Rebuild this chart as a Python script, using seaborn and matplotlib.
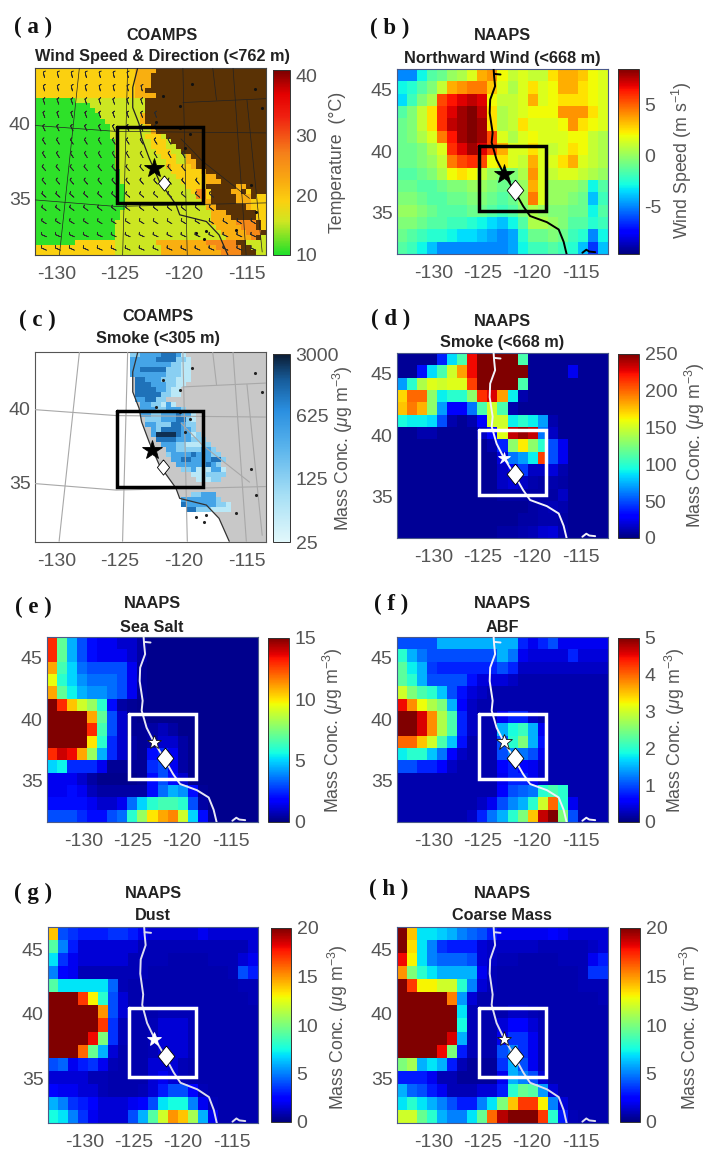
import numpy as np
import matplotlib
matplotlib.use('Agg')
import matplotlib.pyplot as plt
from matplotlib.colors import LinearSegmentedColormap, LogNorm
from matplotlib.ticker import NullLocator
import seaborn as sns

W, H = 705, 1151

sns.set_theme(style='white')
plt.rcParams['font.family'] = ['Liberation Sans', 'DejaVu Sans']
plt.rcParams['mathtext.fontset'] = 'custom'
plt.rcParams['mathtext.rm'] = 'Liberation Sans'
plt.rcParams['mathtext.it'] = 'Liberation Sans:italic'
plt.rcParams['axes.linewidth'] = 0.8

# NAAPS fields, 15 rows (north to south) by 21 columns, short rows stay low to the east
wind_rows = [
    [-5, -5, -3, -1.5, -1, 0, 0.5, 1.5, 3.5, 4, 2, 1, 1.5, 1, 1, 2.5, 3.5, 3.5, 3, 2, 1.5],
    [-3, -2.5, -1.5, -0.5, 1, 3.5, 4, 4.5, 4.5, 3, 1.5, 0.5, 1.5, 2.5, 1.5, 2, 3.5, 3.5, 2.5, 2, 1.5],
    [-3.5, -2, -0.5, 0.5, 5.5, 6.5, 7, 7.5, 7, 2, 1, 1, 1.5, 3.5, 1.5, 2, 2.5, 2.5, 2.5, 2, 1.5],
    [-1.5, -0.5, 1, 2.5, 6, 7, 8, 8.5, 7.5, 2.5, 0.5, 1, 1.5, 2, 2, 2, 4, 4, 4, 2.5, 1.5],
    [-1, -0.5, 1, 2.5, 6, 7.5, 8, 8.5, 8, 2.5, 0.5, 1, 2.5, 1.5, 1.5, 1.5, 2, 4, 2.5, 2, 1.5],
    [-1, -0.5, 0.5, 1.5, 4.5, 6.5, 8, 8.5, 8, 5.5, 1.5, 0.5, 1.5, 2, 1.5, 1.5, 1.5, 2, 2, 1, 0.5],
    [-1, -1, -0.5, 0.5, 1.5, 6, 7, 8, 7, 5.5, 3.5, 1.5, 1.5, 2.5, 1.5, 1, 1.5, 2.5, 2, 1, 0.5],
    [-1, -1, -0.5, 0, 1, 4.5, 5.5, 6, 5.5, 2, 2.5, 1.5, 1, 3.5, 1.5, 1.5, 2.5, 3.5, 1.5, 1, 0.5],
    [-1.5, -1.5, -1, -0.5, 0.5, 2, 2.5, 2, 1, 0, -0.5, -0.5, 0.5, 4, 1.5, 1, 1.5, 1.5, 1, 0.5, 0],
    [-1, -1, -1.5, -1.5, -1, -0.5, -0.5, 0, 0, -0.5, -1, -1, 0, 3.5, 1.5, 0, 0, 0, -0.5, -3, -1.5],
    [-0.5, -0.5, -1, -1.5, -1.5, -1, -1, -0.5, -0.5, -1, -1.5, -1, 0, 4.5, 1.5, 0, 0, -0.5, -1, -4, -2],
    [0, 0, -0.5, -1, -1.5, -1.5, -1.5, -1, -1, -1.5, -2, -1.5, -0.5, 0.5, 0, -0.5, -0.5, -1, -1, -3, -1.5],
    [-0.5, -0.5, -1, -1.5, -1.5, -2, -2, -2.5, -3, -3.5, -4, -3, -1.5, 0.5, 0.5, 0, -0.5, -1.5, -1.5, -2.5, -2],
    [-1, -1.5, -2, -2.5, -2.5, -3, -3.5, -3.5, -4, -4.5, -5, -4.5, -2.5, -1, -1, -0.5, -1, -2, -2.5, -5, -3],
    [-1.5, -2, -3, -4, -5, -5, -5, -5, -5, -5, -5, -4.5, -3, -2, -2, -1.5, -2, -2.5, -4, -6.5, -4],
]
smoke_rows = [
    [5, 5, 5, 5, 40, 85, 110, 225, 250, 250, 250, 250, 110],
    [5, 5, 35, 85, 110, 150, 185, 225, 250, 250, 250, 250, 250, 5, 5, 5, 5, 25],
    [70, 100, 140, 155, 150, 155, 155, 210, 250, 250, 250, 250, 110],
    [170, 200, 200, 130, 90, 100, 100, 130, 215, 230, 185, 90, 10],
    [175, 195, 180, 130, 70, 30, 30, 60, 110, 150, 110, 10],
    [95, 90, 90, 85, 50, 10, 5, 10, 30, 150, 150, 90, 100, 90, 70, 10],
    [5, 5, 10, 10, 5, 5, 5, 5, 15, 30, 155, 235, 245, 235, 60, 15],
    [5, 5, 5, 5, 5, 5, 5, 5, 5, 10, 40, 130, 165, 130, 100, 50, 25],
    [5, 5, 5, 5, 5, 5, 5, 5, 5, 5, 20, 60, 70, 90, 210, 50, 25],
    [5, 5, 5, 5, 5, 5, 5, 5, 5, 5, 15, 30, 45, 15, 15, 20, 10],
    [5, 5, 5, 5, 5, 5, 5, 5, 5, 5, 15, 20, 15, 10, 8, 10, 8],
    [5, 5, 5, 5, 5, 5, 5, 5, 5, 5, 8, 8, 8, 8, 8, 8, 15],
    [5, 5, 5, 5, 5, 5, 5, 5, 5, 5, 5, 5, 5, 8, 10, 12, 10],
    [5, 5, 5, 5, 5, 5, 5, 5, 5, 5, 5, 5, 8, 8, 10, 10, 8],
    [5, 5, 5, 5, 5, 5, 5, 5, 5, 5, 8, 8, 10, 12, 18, 20, 10],
]
seasalt_rows = [
    [13, 7, 4.5, 3, 2, 1.5, 1.5, 1, 1, 0.5],
    [13, 7, 4.5, 3, 2, 1.5, 1.5, 1.5, 1, 0.5],
    [11, 6.5, 5, 3.5, 3, 3, 3, 3, 1.5, 0.3],
    [9.5, 6, 5, 4, 3.5, 3.5, 3.5, 3, 1.5, 0.3],
    [11, 7, 5.5, 4.5, 4, 4, 3.5, 3, 1.5, 0.3],
    [15, 13, 10.5, 9, 8, 6, 2, 0.5, 0.3],
    [15, 15, 15, 15, 11, 7, 3, 1, 0.3],
    [15, 15, 15, 15, 13, 6.5, 3, 1, 0.3, 0.3, 0.5, 0.8, 0.5],
    [15, 15, 15, 15, 10, 6, 2.5, 1, 0.5, 0.3, 0.5, 1, 1, 0.5],
    [13, 14, 13.5, 11, 8, 4.5, 2.5, 1, 0.5, 0.3, 2, 2.5, 1.5, 0.5],
    [5, 5.5, 2.5, 2.5, 2.5, 1.5, 0.3, 0.3, 0.3, 0.3, 2.5, 3, 1.5, 0.5],
    [1.5, 1.5, 1.5, 1, 0.5, 0.2, 0.2, 0.2, 0.2, 0.3, 2, 3, 2, 1],
    [1.5, 1.5, 2, 1.5, 0.8, 0.5, 0.5, 0.5, 0.5, 0.5, 2, 3.5, 4.5, 4, 2, 0.3],
    [2, 2, 2, 2, 1.5, 1, 1, 1.5, 3.5, 5, 6, 6.5, 6.5, 6, 3, 0.5],
    [3, 3, 3, 2.5, 2, 2, 3, 3.5, 6, 8, 10, 11, 11.5, 9, 5, 2, 0.3],
]
abf_rows = [
    [1, 1, 1, 1, 1.5, 1.5, 1.5, 1.5, 1.5, 1.5, 1.5, 1.5, 0.8, 0.5, 0.8, 1, 0.5, 0.5, 0.5, 0.5, 0.5],
    [2, 1.5, 1.2, 1, 1, 1, 1, 1, 1, 1, 1.5, 1.2, 0.5, 0.4, 0.4, 0.4, 0.4, 0.8, 0.4, 0.4, 0.4],
    [2.3, 1.8, 1.5, 0.9, 0.8, 0.8, 0.8, 0.8, 0.8, 0.8, 1, 0.8, 0.3, 0.3, 0.3, 0.3, 0.3, 0.3, 0.3, 0.3, 0.3],
    [2.3, 2, 1.5, 1, 1, 1, 1, 0.7, 0.4, 0.4, 0.4, 0.3],
    [3, 2.5, 2.2, 2, 1.6, 1, 0.7, 0.4, 0.3, 0.2],
    [4.5, 3.8, 3.2, 2.8, 2.5, 1.5, 0.6, 0.3],
    [5, 5, 4.6, 3.8, 2.8, 2.2, 0.8, 0.3, 0.2, 0.2, 0.5, 0.8, 0.8, 0.3],
    [5, 5, 4.6, 3.8, 2.8, 2.2, 0.8, 0.3, 0.2, 0.2, 1.5, 1.9, 2.1, 1.5, 0.5],
    [4, 4, 3.5, 3, 2.2, 1.6, 0.7, 0.2, 0.2, 0.2, 1, 2, 2.5, 1.5, 0.7],
    [1.8, 2, 2, 1.6, 1.2, 0.6, 0.3, 0.2, 0.2, 0.2, 1, 1.3, 1.2, 1, 0.5],
    [1, 1, 0.8, 0.8, 0.6, 0.3, 0.2, 0.2, 0.2, 0.2, 0.6, 0.8, 0.6, 0.5, 0.3],
    [0.2, 0.2, 0.2, 0.2, 0.2, 0.2, 0.2, 0.2, 0.2, 0.2, 0.5, 0.8, 0.8, 0.5, 0.3],
    [0.2, 0.2, 0.2, 0.2, 0.2, 0.2, 0.2, 0.2, 0.2, 0.2, 0.6, 1, 1.1, 1.2, 2, 2.2, 2],
    [0.2, 0.2, 0.2, 0.2, 0.2, 0.2, 0.2, 0.2, 0.3, 0.5, 1, 1.3, 1.5, 2, 3, 4, 2, 0.5],
    [0.2, 0.2, 0.2, 0.2, 0.2, 0.2, 0.2, 0.3, 0.8, 1.2, 1.5, 2, 2.5, 3.5, 4.7, 5, 2.5, 1],
]
dust_rows = [
    [14, 4, 3.5, 3, 3, 3, 3.5, 3.5, 3, 2, 1.5, 1.5, 1.5, 1.5, 1.5, 2, 1.5, 1.5, 1.5, 1.5, 1.5],
    [9, 5, 3, 1.5, 1.5, 1.5, 1.5, 1.5, 1.5, 1, 1, 1, 1, 1, 1, 1, 1, 1, 1, 1, 1.5],
    [7, 3.5, 2, 1.5, 1.5, 1.5, 1.5, 1.5, 1, 1, 1, 1, 0.8, 0.8, 0.8, 0.8, 1, 1, 1, 1.5, 2],
    [5, 2.5, 2, 1, 1, 1, 1, 1, 1, 1, 0.8, 0.8, 0.8, 0.8, 0.8, 0.8, 0.8, 0.8, 1, 4, 3],
    [9, 7, 7, 7, 7, 7, 4.5, 1, 0.8, 0.8, 0.8, 0.8, 0.8, 0.8, 0.8, 0.8, 0.8, 0.8, 0.8, 1, 1],
    [20, 20, 20, 17, 13, 8, 4, 1.5, 0.8, 0.8, 0.8, 0.8, 0.8, 0.8, 0.8, 0.8, 0.8, 0.8, 0.8, 0.8, 1],
    [20, 20, 20, 20, 20, 15, 4, 1.5, 0.8, 0.8, 0.8, 1, 1, 1, 1, 0.8, 0.8, 0.8, 0.8, 0.8, 0.8],
    [20, 20, 20, 20, 20, 17, 3.5, 1, 0.8, 0.8, 1, 1.5, 1.5, 1.5, 1, 0.8, 0.8, 0.8, 0.8, 0.8, 0.8],
    [20, 20, 20, 20, 18, 10, 3.5, 1, 0.8, 0.8, 1, 1.5, 1.5, 1.5, 1, 0.8, 0.8, 0.8, 0.8, 0.8, 0.8],
    [20, 20, 20, 16, 9.5, 6, 1.5, 0.8, 0.8, 0.8, 1, 1.5, 1.5, 1.5, 1, 0.8, 0.8, 0.8, 0.8, 0.8, 0.8],
    [4, 4.5, 2, 3, 3.5, 2, 1, 0.8, 0.8, 0.8, 1.5, 1.5, 1.5, 1, 0.8, 0.8, 0.8, 0.8, 0.8, 0.8, 0.8],
    [1.5, 1.5, 1.5, 1.5, 1, 1, 0.8, 0.8, 0.8, 0.8, 1.5, 2, 1.5, 1, 0.8, 0.8, 0.8, 0.8, 0.8, 0.8, 0.8],
    [2.5, 2, 2, 1.5, 1.5, 1, 0.8, 0.8, 0.8, 1, 1.5, 3, 4, 4, 2.5, 1, 0.8, 0.8, 0.8, 0.8, 0.8],
    [6, 5, 3.5, 3, 2.5, 1.5, 1.5, 1.5, 2, 2.5, 4, 7, 7.5, 7.5, 5, 2, 1, 0.8, 0.8, 0.8, 0.8],
    [7.5, 7, 5, 3.5, 2, 1.5, 1.5, 1.5, 4, 6, 9, 12, 15, 14, 11, 6, 2, 0.8, 0.8, 0.8, 0.8],
]
coarse_rows = [
    [20, 14, 7, 7, 6.5, 6, 5, 4.5, 4, 3, 2, 2, 2, 2, 2, 2.5, 2, 1.5, 1.5, 1.5, 1.5],
    [20, 13.5, 7, 5, 3.5, 3, 3, 3, 1.5, 1.2, 1.2, 1.2, 1.2, 1.2, 1, 1, 1, 1, 1, 1.2, 1.5],
    [18, 13, 7, 5, 4.5, 4.5, 4.5, 4, 1.5, 1.2, 1, 1, 0.8, 0.8, 0.8, 0.8, 1, 1, 1, 2, 3],
    [15, 10, 8, 7, 6, 6, 6, 6, 2, 1, 0.8, 0.8, 0.8, 0.8, 0.8, 0.8, 0.8, 0.8, 1, 3.5, 3.5],
    [20, 17, 13, 13, 12, 12, 8, 5, 1.5, 1, 0.8, 0.8, 0.8, 0.8, 0.8, 0.8, 0.8, 0.8, 1, 1, 1],
    [20, 20, 20, 20, 20, 15.5, 5.5, 1.5, 0.8, 0.8, 0.8, 0.8, 0.8, 0.8, 0.8, 0.8, 0.8, 0.8, 0.8, 0.8, 1],
    [20, 20, 20, 20, 20, 20, 7, 1, 0.8, 0.8, 0.8, 1.2, 1.2, 1, 0.8, 0.8, 0.8, 0.8, 0.8, 0.8, 0.8],
    [20, 20, 20, 20, 20, 20, 7.5, 1, 0.8, 0.8, 1.5, 2.5, 2.5, 1.5, 1, 0.8, 0.8, 0.8, 0.8, 0.8, 0.8],
    [20, 20, 20, 20, 20, 18.5, 6, 1, 0.8, 0.8, 2, 3.5, 3.5, 2, 1, 0.8, 0.8, 0.8, 0.8, 0.8, 0.8],
    [20, 20, 20, 20, 18, 10, 3, 1, 0.8, 0.8, 4, 5, 3.5, 2, 1, 0.8, 0.8, 0.8, 0.8, 0.8, 0.8],
    [10, 11, 6, 7, 6, 3, 1, 0.5, 0.5, 0.5, 3.5, 6, 4, 2, 1, 0.8, 0.8, 0.8, 0.8, 0.8, 0.8],
    [3, 3, 3, 2, 1, 1, 0.5, 0.5, 0.5, 0.5, 2, 6, 5, 4, 1.5, 0.8, 0.8, 0.8, 0.8, 0.8, 0.8],
    [6, 4.5, 4, 3, 2, 1, 1, 1, 1.5, 1.5, 3, 8, 9.5, 9, 5.5, 1.5, 0.8, 0.8, 0.8, 0.8, 0.8],
    [7, 8, 7, 6, 5, 4, 3, 3, 5, 7, 10, 14, 17, 17, 13, 5, 1.5, 0.8, 0.8, 0.8, 0.8],
    [12, 12, 9.5, 8, 6, 5, 5, 7, 9.5, 16, 19, 20, 20, 20, 17, 8, 3, 1, 0.8, 0.8, 0.8],
]

# COAMPS temperature, run lengths of g/l/y/o/O classes, b is terrain brown
temp_levels = {'g': 10.5, 'l': 15.5, 'y': 19, 'o': 22, 'O': 26}
temp_rows = [
    'y20 o4 b22', 'y20 o3 b23', 'y20 o3 b23', 'y20 o3 b23', 'y20 o2 b24', 'y20 o4 b22',
    'g8 l14 b24', 'g11 l11 b24', 'g12 l10 b24', 'g13 l8 o1 b24', 'g14 l7 o1 b24', 'g15 l7 o1 b23',
    'g15 l8 o1 b22', 'g15 l7 y3 l1 b20', 'g16 l7 y3 l1 b19', 'g16 l7 y3 l2 b18', 'g16 l8 y3 l2 b17',
    'g16 l9 y3 l2 o1 b15', 'g16 l10 y2 l2 o2 b14', 'g16 l10 o1 y4 o1 b14', 'g17 l10 y6 o1 b12',
    'g17 l11 y6 o2 b10', 'g17 l12 y5 o3 b9', 'g18 l12 y4 b6 o2 b4', 'g18 l13 y1 O2 y1 b4 o2 b1 y1 b3',
    'g18 l14 O2 y1 b5 o3 b1 y2', 'g18 l15 o2 b5 o3 y3', 'g18 l16 o2 b6 o1 y3', 'g17 l18 o3 b6 y2',
    'g17 l18 o4 b5 y2', 'g16 l19 o5 O4 b1 y1', 'g16 l20 o5 O3 b1 y1', 'g16 l21 o5 O3 b1',
    'g16 l22 o5 O1 b1 l1', 'g8 y8 l8 o10 O6 b2 l4', 'y16 l9 o11 O5 b2 l3', 'y16 l9 o12 O4 b3 l2',
]

# COAMPS smoke, run lengths of concentration classes, . is no smoke
smoke_levels = {'a': 55, 'b': 130, 'c': 420, 'd': 1100, 'e': 2400}
coamps_smoke_rows = [
    '.19 b2 c4 d3 c1 a1 .16', '.19 c5 d4 b2 a1 .15', '.19 c8 b2 a2 .15', '.19 c2 d5 b3 a2 .15',
    '.19 c7 b3 a2 .15', '.20 d2 c3 b3 a3 .15', '.20 d3 c3 b2 a2 .16', '.20 d4 c2 b1 a2 .17',
    '.20 d5 b2 a2 .17', '.20 c2 d2 b2 .20', '.21 c2 b2 a1 c1 a1 .18', '.21 c3 b2 c3 b1 .16',
    '.21 c2 b2 c3 d1 c2 a1 .14', '.22 b3 c3 d2 b1 a1 .14', '.22 c2 b3 d2 c1 b2 .14',
    '.23 c1 b1 d4 c2 b1 .14', '.23 c1 e4 d1 c2 a1 b1 .13', '.24 d4 c3 b3 .12', '.25 c3 b2 a3 b2 .11',
    '.26 c2 b5 c2 b1 .10', '.26 b1 c4 d1 c3 b2 .9', '.27 c2 d2 c4 d2 b1 .8', '.28 c6 d1 c1 b1 .9',
    '.29 b2 c1 a3 c2 a1 .8', '.31 a3 b4 .8', '.32 a3 b2 .9', '.46', '.46', '.31 b2 c3 .10',
    '.29 c5 c2 b1 .9', '.29 d1 c4 c2 b2 a1 .7', '.30 d2 b3 a4 .7', '.46', '.46', '.46', '.46', '.46', '.46',
]

# geography in lon, lat
naaps_coast_lon = [-123.9, -123.85, -123.75, -124.25, -124.3, -124.0, -124.1, -123.6, -122.9, -121.9, -120.9, -120.2, -118.5, -117.3, -116.8, -116.5]
naaps_coast_lat = [46.7, 46.1, 45.3, 44.2, 43.1, 41.5, 40.7, 39.3, 38.2, 36.9, 35.5, 34.7, 34.2, 33.6, 32.6, 31.6]
river_lon = [-123.85, -123.2]
river_lat = [46.3, 46.25]
gulf_lon = [-114.9, -114.5, -114.2, -113.6]
gulf_lat = [31.7, 31.95, 31.8, 31.75]
coamps_coast_lon = [-123.6, -124.0, -124.0, -123.5, -123.3, -122.7, -121.9, -120.6, -120.3, -118.2, -117.2, -116.4]
coamps_coast_lat = [43.8, 42.45, 41.1, 40.0, 39.07, 37.7, 36.15, 34.6, 33.9, 33.45, 32.55, 31.0]
graticule = [
    ([-131.7, -125.3, -113.5], [39.9, 39.5, 39.4]),
    ([-131.7, -125.3, -113.5], [34.9, 34.46, 34.7]),
    ([-128.2, -129.8], [43.8, 31.0]),
    ([-124.4, -124.8], [43.8, 31.0]),
    ([-120.05, -119.7], [43.8, 31.0]),
    ([-116.1, -115.05], [43.8, 31.0]),
]
borders = [
    ([-120.05, -113.5], [41.44, 41.7]),
    ([-117.7, -117.4], [43.8, 41.6]),
    ([-120.2, -118.5, -114.8], [39.0, 37.5, 35.0]),
    ([-115.0, -113.8], [41.6, 31.4]),
]
speck_lon = [-121.6, -120.3, -119.3, -122.15, -120.3, -119.5, -119.9, -114.7, -114.3, -115.85, -118.2, -119.0, -118.35, -114.4, -113.8]
speck_lat = [41.9, 41.2, 42.7, 40.1, 39.75, 39.3, 38.4, 35.9, 34.1, 32.9, 32.8, 32.65, 32.3, 42.35, 41.1]

# wind barbs for panel a, westerly part grows southward
barb_lons = [-131.0, -129.9, -128.8, -127.7, -126.6, -125.5, -124.4, -123.3, -122.2, -121.1, -120.0, -118.9, -117.8, -116.7, -115.6, -114.5]
barb_lats = [43.3, 42.4, 41.5, 40.6, 39.7, 38.8, 37.9, 37.0, 36.1, 35.2, 34.3, 33.4, 32.5, 31.6]
barb_columns = [7, 8, 8, 9, 9, 10, 11, 11, 12, 13, 13, 16, 16, 16]
barb_u = [2, 2, 3, 3, 4, 5, 5, 6, 6, 7, 8, 8, 9, 9]
barb_v = [-9, -9, -9, -8, -8, -8, -8, -7, -7, -6, -6, -5, -4, -4]

NAAPS_EXT = (-133.7, -112.3, 31.6, 46.7)
COAMPS_A_EXT = (-131.7, -113.5, 31.2, 43.76)
COAMPS_C_EXT = (-131.7, -113.5, 30.95, 43.8)

temp_cmap = LinearSegmentedColormap.from_list('temp', [
    (0, '#1fe02a'), (0.18, '#cfe622'), (0.29, '#fbd010'), (0.39, '#f9ae10'), (0.55, '#f5801a'),
    (0.75, '#f02010'), (0.87, '#e40000'), (1, '#7a0000')])
smoke_cmap = LinearSegmentedColormap.from_list('smoke', [
    (0, '#e2f8fb'), (0.25, '#a6dff5'), (0.5, '#5ab4ec'), (0.7, '#2a8fe0'), (0.86, '#175d9c'), (1, '#0b1c33')])

GREY = '#555555'
mass_label = 'Mass Conc. ($\\mu$g m$^{-3}$)'


def expand(rows, levels, ncols):
    out = []
    for row in rows:
        vals = []
        for run in row.split():
            vals += [levels.get(run[0], np.nan)] * int(run[1:])
        out.append(vals[:ncols] + [vals[-1]] * (ncols - len(vals)))
    return np.array(out)


def pad_rows(rows, ncols=21):
    low = min(min(r) for r in rows)
    return np.array([r + [low] * (ncols - len(r)) for r in rows], dtype=float)


def add_box(x0, y0, x1, y1):
    return fig.add_axes([x0 / W, 1 - y1 / H, (x1 - x0) / W, (y1 - y0) / H])


def cells(lon, lat, ext, shape):
    lon0, lon1, lat0, lat1 = ext
    x = (np.asarray(lon) - lon0) / (lon1 - lon0) * shape[1]
    y = (lat1 - np.asarray(lat)) / (lat1 - lat0) * shape[0]
    return x, y


def fix_axes(ax, ext, shape, yticks, edge):
    xt, _ = cells([-130, -125, -120, -115], [40] * 4, ext, shape)
    _, yt = cells([-120] * len(yticks), yticks, ext, shape)
    ax.set_xticks(xt)
    ax.set_xticklabels(['-130', '-125', '-120', '-115'], rotation=0)
    ax.set_yticks(yt)
    ax.set_yticklabels([str(v) for v in yticks], rotation=0)
    ax.tick_params(axis='x', length=0, pad=8, labelsize=14, labelcolor=GREY)
    ax.tick_params(axis='y', length=0, pad=3, labelsize=14, labelcolor=GREY)
    for sp in ax.spines.values():
        sp.set_visible(True)
        sp.set_color(edge)
        sp.set_linewidth(0.8)


def fix_cbar(ax, ticks, labels):
    cb = ax.collections[0].colorbar
    cb.set_ticks(ticks)
    cb.set_ticklabels(labels)
    cb.ax.yaxis.set_minor_locator(NullLocator())
    cb.ax.tick_params(length=0, labelsize=14, labelcolor=GREY, pad=4)
    cb.outline.set_visible(True)
    cb.outline.set_edgecolor('#333333')
    cb.outline.set_linewidth(0.7)


def add_markers(ax, ext, shape, star, diamond, box, color, star_edge, star_size, dia_size):
    bx, by = cells([box[0], box[1], box[1], box[0], box[0]], [box[2], box[2], box[3], box[3], box[2]], ext, shape)
    ax.plot(bx, by, color=color, lw=2.5, solid_joinstyle='miter', zorder=5)
    sx, sy = cells([star[0]], [star[1]], ext, shape)
    ax.plot(sx, sy, marker='*', ms=star_size, mfc=color if color == 'black' else 'white',
            mec=star_edge, mew=0.6, ls='none', zorder=6)
    dx, dy = cells([diamond[0]], [diamond[1]], ext, shape)
    ax.plot(dx, dy, marker=[(0, 1), (0.8, 0), (0, -1), (-0.8, 0), (0, 1)], ms=dia_size,
            mfc='white', mec='black', mew=0.6, ls='none', zorder=6)


def titles(x, y1, y2, line1, line2):
    fig.text(x / W, 1 - y1 / H, line1, ha='center', va='center', fontsize=11.7, fontweight='bold', color='#222222')
    fig.text(x / W, 1 - y2 / H, line2, ha='center', va='center', fontsize=11.7, fontweight='bold', color='#222222')


def panel_label(x, y, text):
    fig.text(x / W, 1 - y / H, text, ha='center', va='center', fontsize=16.5, fontweight='bold',
             family='Liberation Serif', color='#111111')


def side_label(x, y, text):
    fig.text(x / W, 1 - y / H, text, ha='center', va='center', rotation=90, fontsize=12.8, color=GREY)


fig = plt.figure(figsize=(W / 100, H / 100), dpi=100)

# (a) COAMPS wind and temperature
temp = expand(temp_rows, temp_levels, 46)
ax = add_box(35, 68, 266, 255)
cax = add_box(273, 70, 290, 255)
ax.set_facecolor('#5a3205')
sns.heatmap(temp, ax=ax, cbar_ax=cax, cmap=temp_cmap, vmin=10, vmax=41, mask=np.isnan(temp),
            xticklabels=False, yticklabels=False)
fix_axes(ax, COAMPS_A_EXT, temp.shape, [40, 35], '#444444')
fix_cbar(ax, [10, 20, 30, 40], ['10', '20', '30', '40'])
for lon, lat in graticule + borders:
    ax.plot(*cells(lon, lat, COAMPS_A_EXT, temp.shape), color='#222222', lw=0.5, zorder=3)
ax.plot(*cells(coamps_coast_lon, coamps_coast_lat, COAMPS_A_EXT, temp.shape), color='#222222', lw=0.9, zorder=3)
ax.scatter(*cells(speck_lon, speck_lat, COAMPS_A_EXT, temp.shape), s=5, color='#111111', lw=0, zorder=3)
for row, lat in enumerate(barb_lats):
    n = barb_columns[row]
    bx, by = cells(barb_lons[:n], [lat] * n, COAMPS_A_EXT, temp.shape)
    ax.barbs(bx, by, [barb_u[row]] * n, [barb_v[row]] * n, length=2.8, linewidth=0.55, pivot='middle',
             color='#2a2a2a', zorder=4)
add_markers(ax, COAMPS_A_EXT, temp.shape, (-122.3, 37.05), (-121.5, 36.05), (-125.2, -118.5, 39.8, 34.7),
            'black', 'black', 15, 11)
titles(162, 35, 56, 'COAMPS', 'Wind Speed & Direction (<762 m)')
panel_label(33, 27, '( a )')
side_label(337, 162, 'Temperature  (°C)')

# (c) COAMPS smoke
smoke_c = expand(coamps_smoke_rows, smoke_levels, 46)
ax = add_box(35, 352, 266, 542)
cax = add_box(273, 354, 290, 542)
ax.set_facecolor('#c8c8c8')
ox, oy = cells(coamps_coast_lon, coamps_coast_lat, COAMPS_C_EXT, smoke_c.shape)
ax.fill(list(ox) + [ox[-1], 0, 0], list(oy) + [smoke_c.shape[0], smoke_c.shape[0], 0], color='white', lw=0, zorder=0)
sns.heatmap(smoke_c, ax=ax, cbar_ax=cax, cmap=smoke_cmap, norm=LogNorm(25, 3000), mask=np.isnan(smoke_c),
            xticklabels=False, yticklabels=False)
fix_axes(ax, COAMPS_C_EXT, smoke_c.shape, [40, 35], '#555555')
fix_cbar(ax, [25, 125, 625, 3000], ['25', '125', '625', '3000'])
for lon, lat in graticule + borders:
    ax.plot(*cells(lon, lat, COAMPS_C_EXT, smoke_c.shape), color='#a8a8a8', lw=0.8, zorder=3)
ax.plot(*cells(coamps_coast_lon, coamps_coast_lat, COAMPS_C_EXT, smoke_c.shape), color='#333333', lw=0.9, zorder=3)
ax.scatter(*cells(speck_lon, speck_lat, COAMPS_C_EXT, smoke_c.shape), s=5, color='#222222', lw=0, zorder=3)
add_markers(ax, COAMPS_C_EXT, smoke_c.shape, (-122.5, 37.2), (-121.6, 36.0), (-125.2, -118.5, 39.8, 34.66),
            'black', 'black', 15, 11)
titles(158, 317, 338, 'COAMPS', 'Smoke (<305 m)')
panel_label(37, 320, '( c )')
side_label(343, 448, mass_label)

# NAAPS panels
naaps_panels = [
    (wind_rows, -9.7, 8.5, (397, 69, 608, 254), (618, 69, 639, 254), [-5, 0, 5], ['-5', '0', '5'],
     'Northward Wind (<668 m)', (502, 36, 58), '( b )', (390, 28), 'Wind Speed (m s$^{-1}$)', (682, 160), 'black', 'black', 15, 15),
    (smoke_rows, 0, 250, (397, 353, 608, 538), (618, 354, 639, 538), [0, 50, 100, 150, 200, 250],
     ['0', '50', '100', '150', '200', '250'], 'Smoke (<668 m)', (502, 321, 343), '( d )', (391, 319),
     mass_label, (695, 445), '#f2f2fa', 'white', 9, 15),
    (seasalt_rows, 0, 15, (47, 637, 258, 822), (268, 638, 289, 822), [0, 5, 10, 15], ['0', '5', '10', '15'],
     'Sea Salt', (152, 604, 627), '( e )', (33, 607), mass_label, (333, 730), '#e6e6f5', '#111111', 10, 15),
    (abf_rows, 0, 5, (397, 637, 608, 822), (618, 638, 639, 822), [0, 1, 2, 3, 4, 5], ['0', '1', '2', '3', '4', '5'],
     'ABF', (502, 604, 627), '( f )', (391, 604), mass_label, (675, 730), '#f0f0fa', '#111111', 12, 15),
    (dust_rows, 0, 20, (48, 927, 258, 1123), (271, 928, 291, 1122), [0, 5, 10, 15, 20], ['0', '5', '10', '15', '20'],
     'Dust', (153, 893, 916), '( g )', (33, 893), mass_label, (338, 1027), '#dcdcf0', 'white', 10, 15),
    (coarse_rows, 0, 20, (397, 927, 608, 1123), (620, 928, 640, 1122), [0, 5, 10, 15, 20], ['0', '5', '10', '15', '20'],
     'Coarse Mass', (502, 893, 916), '( h )', (389, 889), mass_label, (690, 1027), '#dcdcf0', '#111111', 11, 15),
]
for rows, vmin, vmax, box, cbox, cticks, clabels, sub, tpos, lab, lpos, side, spos, line_c, star_e, star_s, dia_s in naaps_panels:
    data = pad_rows(rows)
    ax = add_box(*box)
    cax = add_box(*cbox)
    sns.heatmap(data, ax=ax, cbar_ax=cax, cmap='jet', vmin=vmin, vmax=vmax, xticklabels=False, yticklabels=False)
    fix_axes(ax, NAAPS_EXT, data.shape, [45, 40, 35], '#4a5a8a')
    fix_cbar(ax, cticks, clabels)
    for lon, lat in [(naaps_coast_lon, naaps_coast_lat), (river_lon, river_lat), (gulf_lon, gulf_lat)]:
        ax.plot(*cells(lon, lat, NAAPS_EXT, data.shape), color=line_c, lw=1.4, zorder=3)
    add_markers(ax, NAAPS_EXT, data.shape, (-122.85, 38.1), (-121.7, 36.8), (-125.4, -118.6, 40.45, 35.15),
                'black' if line_c == 'black' else 'white', star_e, star_s, dia_s)
    titles(tpos[0], tpos[1], tpos[2], 'NAAPS', sub)
    panel_label(lpos[0], lpos[1], lab)
    side_label(spos[0], spos[1], side)

fig.savefig('out.png', dpi=100, facecolor='white')
